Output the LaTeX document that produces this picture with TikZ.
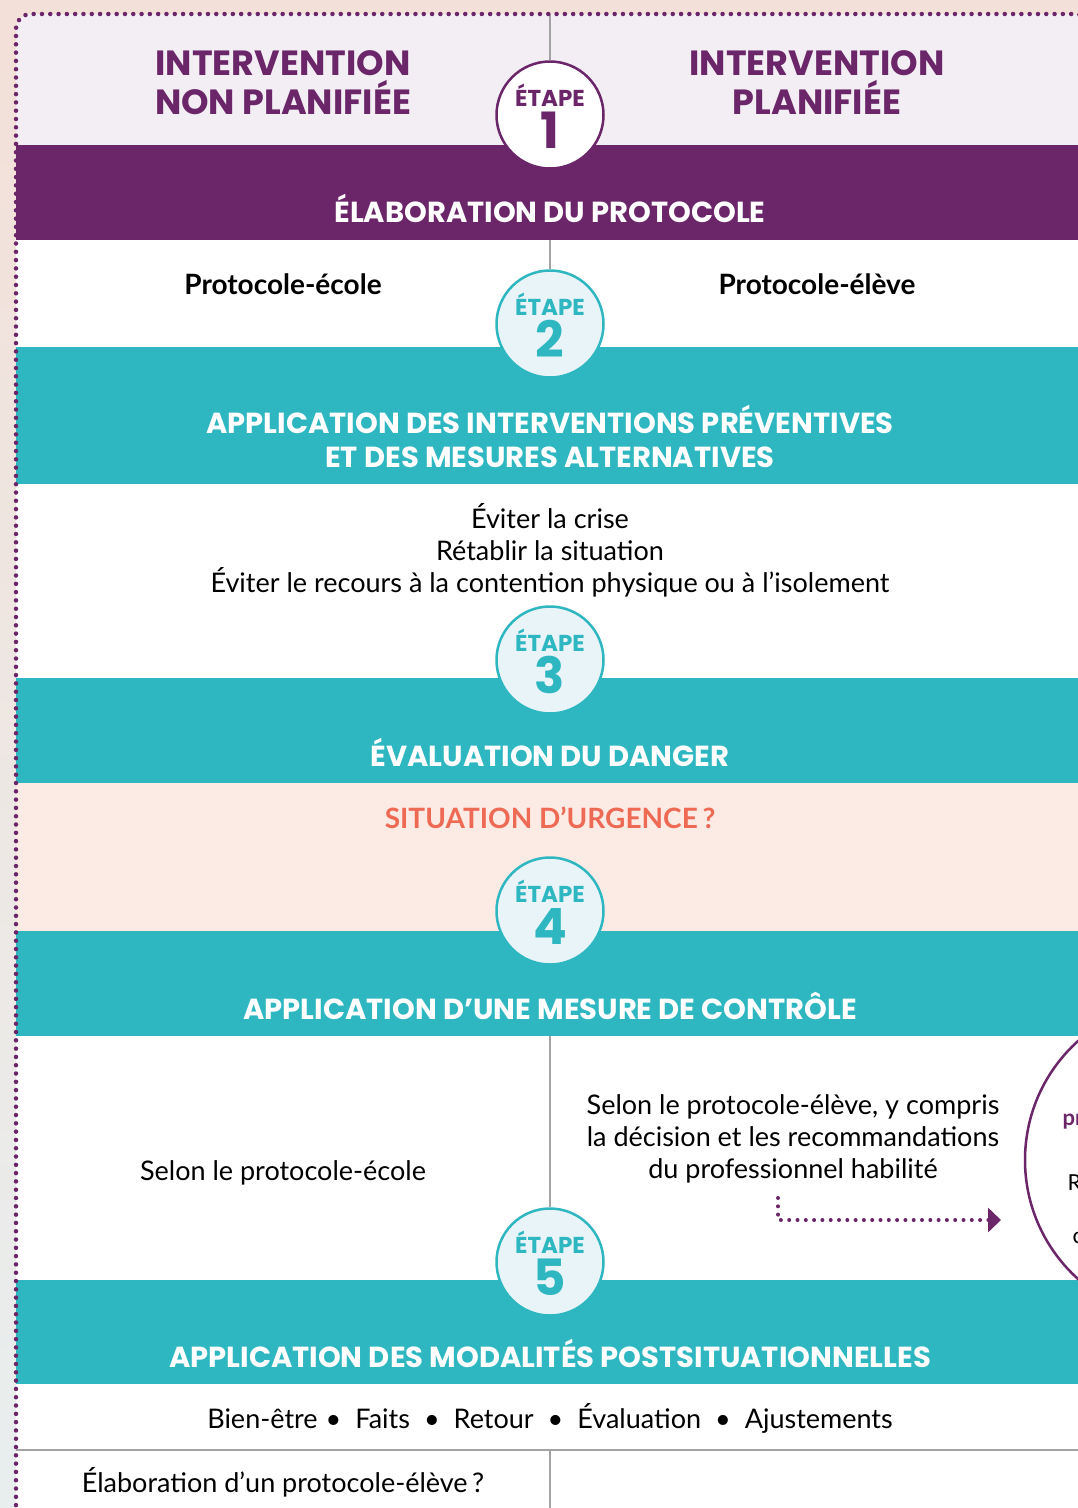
\documentclass[tikz,border=0pt]{standalone}
\usepackage{fontspec}
\setmainfont{Lato}
\newfontfamily\headfont{Poppins}
\usetikzlibrary{arrows.meta}

\definecolor{purpleS}{HTML}{6B2569}
\definecolor{tealS}{HTML}{2FB7C1}
\definecolor{lavenderS}{HTML}{F2EEF4}
\definecolor{peachS}{HTML}{FCEBE5}
\definecolor{coralS}{HTML}{EE6A55}
\definecolor{stepfill}{HTML}{E8F4F7}
\definecolor{lineS}{HTML}{A3A3A3}
\definecolor{bgtop}{HTML}{F3E0D8}
\definecolor{bgbottom}{HTML}{E8EEEE}

\begin{document}
\begin{tikzpicture}[x=1pt, y=-1pt,
  headtxt/.style={font=\headfont\bfseries\fontsize{35}{39}\selectfont, text=purpleS, align=center},
  bandtxt/.style={font=\headfont\bfseries\fontsize{29}{30}\selectfont, text=white, anchor=base},
  bodytxt/.style={font=\fontsize{27}{32}\selectfont, align=center},
  boldtxt/.style={font=\bfseries\fontsize{28}{30}\selectfont, anchor=base},
  stepcircle/.style={circle, minimum size=107pt, inner sep=0pt, line width=2.5pt, draw=tealS, fill=stepfill},
  steplabel/.style={font=\headfont\bfseries\fontsize{23}{23}\selectfont, text=tealS, anchor=base},
  stepnum/.style={font=\headfont\bfseries\fontsize{50}{50}\selectfont, text=tealS, anchor=base},
  divider/.style={draw=lineS, line width=1.5pt},
  dotline/.style={draw=purpleS, line width=4pt, line cap=round, dash pattern=on 0pt off 8.3pt},
  sidetxt/.style={font=\fontsize{22}{26}\selectfont, anchor=base west}]
\useasboundingbox (0,0) rectangle (1078,1508);
\clip (0,0) rectangle (1078,1508);

% background and bands
\shade[top color=bgtop, bottom color=bgbottom] (0,0) rectangle (1078,1508);
\fill[lavenderS, rounded corners=15pt] (16,1530) -- (16,14) -- (1090,14) -- (1090,1530) -- cycle;
\fill[purpleS] (16,145) rectangle (1090,240);
\fill[white] (16,240) rectangle (1090,347);
\fill[tealS] (16,347) rectangle (1090,484);
\fill[white] (16,484) rectangle (1090,678);
\fill[tealS] (16,678) rectangle (1090,783);
\fill[peachS] (16,783) rectangle (1090,931);
\fill[tealS] (16,931) rectangle (1090,1036);
\fill[white] (16,1036) rectangle (1090,1280);
\fill[tealS] (16,1280) rectangle (1090,1384);
\fill[white] (16,1384) rectangle (1090,1530);

% steps
\node[stepcircle, draw=purpleS, fill=white] (step1) at (550,115) {};
\node[steplabel, text=purpleS] at ([yshift=9pt]step1.center) {ÉTAPE};
\node[stepnum, text=purpleS] at ([yshift=-33pt]step1.center) {1};
\foreach \n/\y in {2/324, 3/660, 4/911, 5/1262} {
  \node[stepcircle] (step\n) at (550,\y) {};
  \node[steplabel] at ([yshift=9pt]step\n.center) {ÉTAPE};
  \node[stepnum] at ([yshift=-33pt]step\n.center) {\n};
}

% dividers
\coordinate (topmid) at (550,14);
\coordinate (protomid) at (550,240);
\coordinate (controlmid) at (550,1036);
\coordinate (rowleft) at (16,1450);
\coordinate (rowright) at (1078,1450);
\coordinate (rowmid) at (550,1450);
\coordinate (bottommid) at (550,1508);
\draw[divider] (topmid) -- (step1);
\draw[divider] (protomid) -- (step2);
\draw[divider] (controlmid) -- (step5);
\draw[divider] (rowleft) -- (rowright);
\draw[divider] (rowmid) -- (bottommid);

% header
\node[headtxt] (unplanned) at (283,83) {INTERVENTION\\NON PLANIFIÉE};
\node[headtxt] (planned) at (817,83) {INTERVENTION\\PLANIFIÉE};

% band titles
\node[bandtxt] (elab) at (550,222) {ÉLABORATION DU PROTOCOLE};
\node[bandtxt] (prevent) at (550,433) {APPLICATION DES INTERVENTIONS PRÉVENTIVES};
\node[bandtxt] (altern) at (550,467) {ET DES MESURES ALTERNATIVES};
\node[bandtxt] (danger) at (550,766) {ÉVALUATION DU DANGER};
\node[bandtxt] (control) at (550,1019) {APPLICATION D’UNE MESURE DE CONTRÔLE};
\node[bandtxt] (post) at (550,1367) {APPLICATION DES MODALITÉS POSTSITUATIONNELLES};

% contents
\node[boldtxt] (school) at (283,294) {Protocole-école};
\node[boldtxt] (student) at (817,294) {Protocole-élève};
\node[bodytxt] (avoid) at (550,550) {Éviter la crise\\Rétablir la situation\\Éviter le recours à la contention physique ou à l’isolement};
\node[boldtxt, text=coralS] (urgent) at (550,828) {SITUATION D’URGENCE\,?};
\node[bodytxt, anchor=base] (schoolrule) at (283,1180) {Selon le protocole-école};
\node[bodytxt] (studentrule) at (793,1139) {Selon le protocole-élève, y compris\\la décision et les recommandations\\du professionnel habilité};
\node[bodytxt, anchor=base] (after) at (550,1428) {Bien-être\hspace{8pt}•\hspace{14pt}Faits\hspace{14pt}•\hspace{14pt}Retour\hspace{14pt}•\hspace{14pt}Évaluation\hspace{14pt}•\hspace{14pt}Ajustements};
\node[bodytxt, anchor=base] (newproto) at (283,1492) {Élaboration d’un protocole-élève\,?};

% side circle
\node[circle, minimum size=320pt, inner sep=0pt, draw=purpleS, line width=2.5pt, fill=white] (pro) at (1185,1160) {};
\node[sidetxt, font=\bfseries\fontsize{22}{26}\selectfont, text=purpleS] at (1059,1125) {pr};
\node[sidetxt] at (1064,1190) {R};
\node[sidetxt] at (1069,1243) {c};

% dotted arrow
\coordinate (arrstart) at (778,1198);
\coordinate (arrend) at (1001,1220);
\draw[dotline, -{Triangle[length=13pt, width=24pt]}] (arrstart) |- (arrend);

% dotted border
\draw[dotline, line width=4.5pt, rounded corners=15pt] (16,1530) -- (16,14) -- (1090,14) -- (1090,1530);
\end{tikzpicture}
\end{document}
